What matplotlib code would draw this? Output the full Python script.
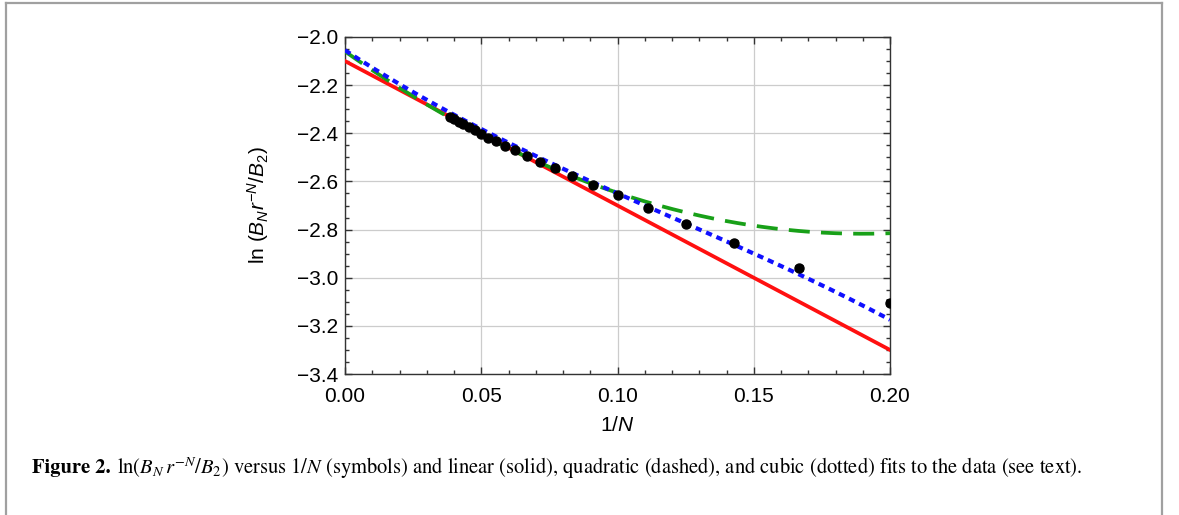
import matplotlib
matplotlib.use("Agg")
import matplotlib.pyplot as plt
from matplotlib.lines import Line2D
from matplotlib.ticker import MultipleLocator
import numpy as np

# data: ln(B_N r^-N / B_2) for N = 5..26
N = np.arange(5, 27)
inv_N = 1.0 / N
lnB = [-3.103, -2.960, -2.855, -2.775, -2.710, -2.656, -2.615, -2.578,
       -2.546, -2.518, -2.493, -2.470, -2.451, -2.434, -2.418, -2.402,
       -2.388, -2.375, -2.363, -2.352, -2.342, -2.332]
lnB_err = [0.010, 0.008, 0.006, 0.005, 0.004, 0.004, 0.003, 0.003,
           0.003, 0.003, 0.003, 0.003, 0.003, 0.003, 0.003, 0.003,
           0.003, 0.003, 0.003, 0.003, 0.003, 0.003]

# fit coefficients (constant, x, x^2, x^3), estimated from the curves
linear_fit = [-2.100, -6.00]
quad_fit = [-2.060, -7.97, 20.97]
cubic_fit = [-2.055, -7.43, 20.5, -56.7]

sans = "Liberation Sans"
plt.rcParams["mathtext.fontset"] = "custom"
plt.rcParams["mathtext.rm"] = sans
plt.rcParams["mathtext.it"] = sans + ":italic"
plt.rcParams["mathtext.bf"] = sans + ":bold"

fig = plt.figure(figsize=(11.79, 5.15), dpi=100)
ax = fig.add_axes([345 / 1179, 1 - 374 / 515, 545 / 1179, 337 / 515])

xs = np.linspace(0, 0.2, 400)
def poly(c, x):
    return sum(ci * x ** i for i, ci in enumerate(c))

ax.plot(xs, poly(linear_fit, xs), color="#ff1010", lw=2.7, zorder=3)
ax.plot(xs, poly(quad_fit, xs), color="#18a018", lw=2.7,
        dashes=(5.6, 3.0), zorder=4)
ax.plot(xs, poly(cubic_fit, xs), color="#1010ff", lw=3.0,
        dashes=(1.5, 1.2), zorder=5)
ax.errorbar(inv_N, lnB, yerr=lnB_err, fmt="o", color="black", ms=6.5,
            elinewidth=1.8, capsize=3.2, capthick=1.8, zorder=6)

ax.set_xlim(0, 0.2)
ax.set_ylim(-3.4, -2.0)
ax.xaxis.set_major_locator(MultipleLocator(0.05))
ax.xaxis.set_minor_locator(MultipleLocator(0.01))
ax.yaxis.set_major_locator(MultipleLocator(0.2))
ax.yaxis.set_minor_locator(MultipleLocator(0.05))
ax.set_xticks([0, 0.05, 0.10, 0.15, 0.20])
ax.set_xticklabels(["0.00", "0.05", "0.10", "0.15", "0.20"])
ax.set_yticks(np.arange(-3.4, -1.99, 0.2))
ax.set_yticklabels(["\u22123.4", "\u22123.2", "\u22123.0", "\u22122.8",
                    "\u22122.6", "\u22122.4", "\u22122.2", "\u22122.0"])
ax.tick_params(which="both", direction="in", top=True, right=True,
               color="#333333", width=1.0)
ax.tick_params(which="major", length=5, labelsize=15)
ax.tick_params(axis="y", which="major", pad=5)
ax.tick_params(axis="x", which="major", pad=9)
ax.tick_params(which="minor", length=3)
for lab in ax.get_xticklabels() + ax.get_yticklabels():
    lab.set_fontfamily(sans)
ax.grid(True, which="major", color="#cccccc", lw=0.9)
ax.set_axisbelow(True)
for sp in ax.spines.values():
    sp.set_color("#333333")
    sp.set_linewidth(1.0)

ax.set_xlabel(r"1/$N$", fontsize=15, family=sans, math_fontfamily="custom")
ax.xaxis.set_label_coords(0.5, -0.125)
ax.set_ylabel(r"ln ($B_N r^{-N}/B_2$)", fontsize=15, family=sans,
              math_fontfamily="custom")
ax.yaxis.set_label_coords(-0.135, 0.5)

# gray frame round the figure (open at the bottom)
frame = dict(color="#a0a0a0", lw=1.6, transform=fig.transFigure)
fig.add_artist(Line2D([5.5 / 1179, 5.5 / 1179], [0, 1 - 3 / 515], **frame))
fig.add_artist(Line2D([5.5 / 1179, 1162 / 1179], [1 - 3 / 515, 1 - 3 / 515], **frame))
fig.add_artist(Line2D([1162 / 1179, 1162 / 1179], [0, 1 - 3 / 515], **frame))

# caption
cap_y = 1 - 468 / 515
t1 = fig.text(32 / 1179, cap_y, "Figure 2.", family="STIXGeneral",
              weight="bold", fontsize=14.8, va="center")
fig.canvas.draw()
bb = t1.get_window_extent()
fig.text((bb.x1 + 6) / 1179, cap_y,
         r"$\ln(B_N\, r^{-N}/B_2)$ versus $1/N$ (symbols) and linear (solid), "
         r"quadratic (dashed), and cubic (dotted) fits to the data (see text).",
         family="STIXGeneral", fontsize=14.8, va="center",
         math_fontfamily="stix")

fig.savefig("out.png", dpi=100)
